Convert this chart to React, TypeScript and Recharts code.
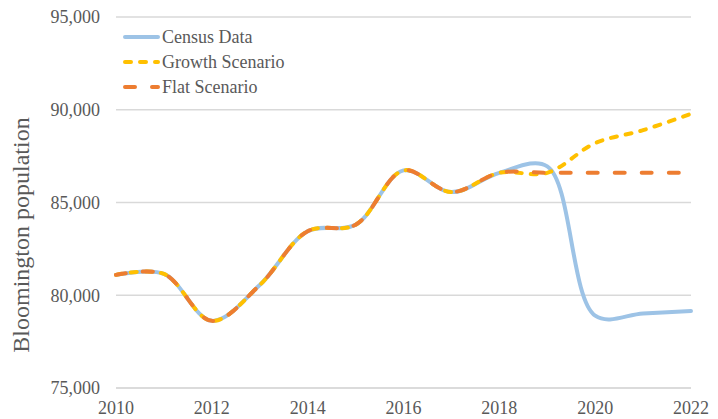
import React from "react";
import { CartesianGrid, Legend, Line, LineChart, XAxis, YAxis } from "recharts";

const years = [2010, 2011, 2012, 2013, 2014, 2015, 2016, 2017, 2018, 2019, 2020, 2021, 2022];
const censusData = [81100, 81150, 78620, 80550, 83450, 83800, 86730, 85560, 86600, 86950, 78900, 79020, 79150];
const growthScenario = [81100, 81150, 78620, 80550, 83450, 83800, 86730, 85560, 86600, 86600, 88200, 88900, 89780];
const flatScenario = [81100, 81150, 78620, 80550, 83450, 83800, 86730, 85560, 86600, 86600, 86600, 86600, 86600];
const xTicks = [2010, 2012, 2014, 2016, 2018, 2020, 2022];
const yTicks = [75000, 80000, 85000, 90000, 95000];

const BLUE = "#9DC3E6";
const YELLOW = "#FFC000";
const ORANGE = "#ED7D31";
const TEXT = "#595959";
const GRID = "#D9D9D9";
const FONT = "'Liberation Serif', 'Times New Roman', serif";

const rows = years.map((year, i) => ({
  year,
  census: censusData[i],
  growth: growthScenario[i],
  flat: flatScenario[i],
}));

const series = [
  { key: "census", name: "Census Data", color: BLUE, dash: undefined as string | undefined },
  { key: "growth", name: "Growth Scenario", color: YELLOW, dash: "6 9" },
  { key: "flat", name: "Flat Scenario", color: ORANGE, dash: "10 17" },
];

/**
 * Centripetal Catmull-Rom curve (same maths as d3's curveCatmullRom), used to
 * mimic the spreadsheet "smoothed line" look. Written out here because only
 * recharts itself may be imported.
 */
class CatmullRomCurve {
  ctx: any;
  alpha: number;
  _line = NaN;
  _point = 0;
  _x0 = NaN; _x1 = NaN; _x2 = NaN;
  _y0 = NaN; _y1 = NaN; _y2 = NaN;
  _l01_a = 0; _l12_a = 0; _l23_a = 0;
  _l01_2a = 0; _l12_2a = 0; _l23_2a = 0;

  constructor(ctx: any, alpha: number) {
    this.ctx = ctx;
    this.alpha = alpha;
  }
  areaStart() { this._line = 0; }
  areaEnd() { this._line = NaN; }
  lineStart() {
    this._x0 = this._x1 = this._x2 = this._y0 = this._y1 = this._y2 = NaN;
    this._l01_a = this._l12_a = this._l23_a = this._l01_2a = this._l12_2a = this._l23_2a = 0;
    this._point = 0;
  }
  lineEnd() {
    switch (this._point) {
      case 2: this.ctx.lineTo(this._x2, this._y2); break;
      case 3: this.point(this._x2, this._y2); break;
    }
    if (this._line || (this._line !== 0 && this._point === 1)) this.ctx.closePath();
    this._line = 1 - this._line;
  }
  segment(x: number, y: number) {
    let x1 = this._x1, y1 = this._y1, x2 = this._x2, y2 = this._y2;
    if (this._l01_a > 1e-12) {
      const a = 2 * this._l01_2a + 3 * this._l01_a * this._l12_a + this._l12_2a;
      const n = 3 * this._l01_a * (this._l01_a + this._l12_a);
      x1 = (x1 * a - this._x0 * this._l12_2a + this._x2 * this._l01_2a) / n;
      y1 = (y1 * a - this._y0 * this._l12_2a + this._y2 * this._l01_2a) / n;
    }
    if (this._l23_a > 1e-12) {
      const b = 2 * this._l23_2a + 3 * this._l23_a * this._l12_a + this._l12_2a;
      const m = 3 * this._l23_a * (this._l23_a + this._l12_a);
      x2 = (x2 * b + this._x1 * this._l23_2a - x * this._l12_2a) / m;
      y2 = (y2 * b + this._y1 * this._l23_2a - y * this._l12_2a) / m;
    }
    this.ctx.bezierCurveTo(x1, y1, x2, y2, this._x2, this._y2);
  }
  point(x: number, y: number) {
    x = +x; y = +y;
    if (this._point) {
      const x23 = this._x2 - x, y23 = this._y2 - y;
      this._l23_2a = Math.pow(x23 * x23 + y23 * y23, this.alpha);
      this._l23_a = Math.sqrt(this._l23_2a);
    }
    switch (this._point) {
      case 0:
        this._point = 1;
        if (this._line) this.ctx.lineTo(x, y);
        else this.ctx.moveTo(x, y);
        break;
      case 1: this._point = 2; break;
      case 2: this._point = 3; this.segment(x, y); break;
      default: this.segment(x, y); break;
    }
    this._l01_a = this._l12_a; this._l12_a = this._l23_a;
    this._l01_2a = this._l12_2a; this._l12_2a = this._l23_2a;
    this._x0 = this._x1; this._x1 = this._x2; this._x2 = x;
    this._y0 = this._y1; this._y1 = this._y2; this._y2 = y;
  }
}

const smoothCurve = (ctx: any) => new CatmullRomCurve(ctx, 0.5);

function LegendBox() {
  return (
    <div style={{ fontFamily: FONT, fontSize: 18, color: TEXT }}>
      {series.map((s) => (
        <div key={s.key} style={{ display: "flex", alignItems: "center", height: 24.7 }}>
          <svg width={46} height={8} style={{ display: "block", flex: "none" }}>
            <line
              x1={9}
              x2={42}
              y1={4}
              y2={4}
              stroke={s.color}
              strokeWidth={4}
              strokeDasharray={s.dash}
              strokeLinecap="round"
            />
          </svg>
          <span style={{ marginLeft: 0, lineHeight: "20px" }}>{s.name}</span>
        </div>
      ))}
    </div>
  );
}

function YTitle() {
  const cx = 29;
  const cy = 235;
  return (
    <text
      x={cx}
      y={cy}
      transform={`rotate(-90 ${cx} ${cy})`}
      textAnchor="middle"
      fill={TEXT}
      fontSize={24}
      fontFamily={FONT}
    >
      Bloomington population
    </text>
  );
}

export default function App() {
  return (
    <div style={{ position: "absolute", left: 0, top: 0, width: 718, height: 419, background: "#fff" }}>
      <LineChart width={718} height={419} data={rows} margin={{ top: 17, right: 27, bottom: 0, left: 0 }}>
        <CartesianGrid horizontal vertical={false} stroke={GRID} strokeWidth={1.5} />
        <XAxis
          dataKey="year"
          type="number"
          domain={[2010, 2022]}
          ticks={xTicks}
          interval={0}
          height={31}
          axisLine={{ stroke: GRID, strokeWidth: 1.5 }}
          tickLine={false}
          tickMargin={7}
          tick={{ fontSize: 18, fill: TEXT, fontFamily: FONT }}
        />
        <YAxis
          type="number"
          domain={[75000, 95000]}
          ticks={yTicks}
          interval={0}
          width={116}
          axisLine={false}
          tickLine={false}
          tickMargin={10}
          tick={{ fontSize: 18, fill: TEXT, fontFamily: FONT }}
          tickFormatter={(v: number) => v.toLocaleString("en-US")}
          label={<YTitle />}
        />
        <Legend
          layout="vertical"
          align="center"
          verticalAlign="middle"
          content={<LegendBox />}
          wrapperStyle={{ left: 116, top: 25, width: 220 }}
        />
        {series.map((s) => (
          <Line
            key={s.key}
            dataKey={s.key}
            name={s.name}
            type={smoothCurve as any}
            stroke={s.color}
            strokeWidth={4}
            strokeDasharray={s.dash}
            strokeLinecap="round"
            dot={false}
            activeDot={false}
            isAnimationActive={false}
          />
        ))}
      </LineChart>
    </div>
  );
}
